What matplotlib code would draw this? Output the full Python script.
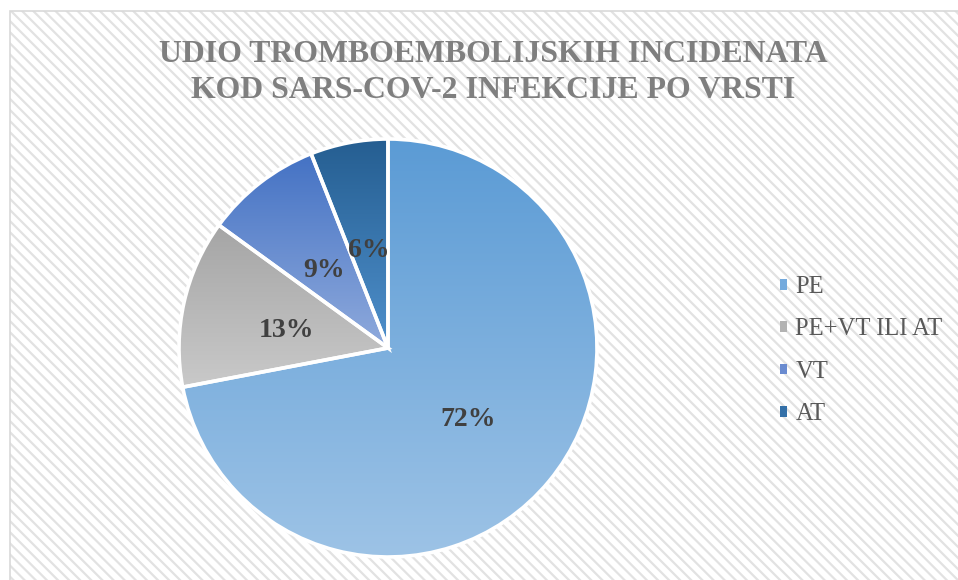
import matplotlib
matplotlib.use("Agg")
import matplotlib.pyplot as plt
import numpy as np
from matplotlib.patches import Rectangle, Patch
from matplotlib.colors import to_rgb
from matplotlib.transforms import offset_copy

# ---- data ----
categories = ["PE", "PE+VT ILI AT", "VT", "AT"]
values = [72, 13, 9, 6]
title_lines = ["UDIO TROMBOEMBOLIJSKIH INCIDENATA", "KOD SARS-COV-2 INFEKCIJE PO VRSTI"]

# ---- styles ----
top_colors = ["#5B9BD5", "#A5A5A5", "#4472C4", "#255E91"]
bottom_colors = ["#9DC3E6", "#C9C9C9", "#8FAADC", "#4F90CC"]
legend_colors = ["#74AADD", "#B3B3B3", "#6A8BD0", "#3470A8"]

W, H = 958, 580
plt.rcParams['font.family'] = ['Liberation Serif', 'DejaVu Serif']
plt.rcParams['hatch.linewidth'] = 1.6

fig = plt.figure(figsize=(W / 100, H / 100), dpi=100)
fig.patch.set_facecolor("white")

# hatched chart-area background
bg = Rectangle((10 / W, 0), 1.0, (H - 11) / H, transform=fig.transFigure,
               facecolor="white", edgecolor="#E2E2E2", linewidth=0,
               hatch="\\\\\\", zorder=-2)
fig.add_artist(bg)
border = Rectangle((10 / W, -0.01), 1.0, (H - 11) / H + 0.01, transform=fig.transFigure,
                   facecolor="none", edgecolor="#D9D9D9", linewidth=1.2, zorder=-1)
fig.add_artist(border)

cx, cy, r = 388, 348, 209
ax = fig.add_axes([(cx - r) / W, (H - cy - r) / H, 2 * r / W, 2 * r / H])
wedges, texts, autotexts = ax.pie(
    values, startangle=90, counterclock=False, radius=1,
    autopct='%d%%', pctdistance=0.5,
    wedgeprops=dict(edgecolor="white", linewidth=2.6),
    textprops=dict(fontsize=20, fontweight="bold", color="#404040"))
ax.set_xlim(-1, 1)
ax.set_ylim(-1, 1)
ax.axis('off')

# gradient fills clipped to each wedge
for w, c0, c1 in zip(wedges, top_colors, bottom_colors):
    ext = w.get_path().get_extents()
    t = np.linspace(0, 1, 256)[:, None]
    g = (1 - t) * np.array(to_rgb(c0)) + t * np.array(to_rgb(c1))
    img = ax.imshow(g[:, None, :], extent=(ext.x0, ext.x1, ext.y0, ext.y1),
                    origin='upper', aspect='auto', zorder=1.5,
                    interpolation='bilinear')
    img.set_clip_path(w)
    w.set_facecolor("none")
    w.set_zorder(2)
label_tr = offset_copy(ax.transData, fig=fig, x=0, y=-5, units='dots')
for at in autotexts:
    at.set_zorder(4)
    at.set_transform(label_tr)
ax.set_xlim(-1, 1)
ax.set_ylim(-1, 1)

# title
fig.text(493 / W, 1 - 54 / H, title_lines[0], ha="center", va="center",
         fontsize=22.9, fontweight="bold", color="#7F7F7F")
fig.text(493 / W, 1 - 91 / H, title_lines[1], ha="center", va="center",
         fontsize=22.9, fontweight="bold", color="#7F7F7F")

# legend
handles = [Patch(facecolor=c, edgecolor="none") for c in legend_colors]
fig.legend(handles, categories, loc="upper left",
           bbox_to_anchor=(780 / W, 1 - 276 / H), bbox_transform=fig.transFigure,
           frameon=False, handlelength=0.3, handleheight=0.3,
           handletextpad=0.33, labelspacing=0.83, borderpad=0, borderaxespad=0,
           prop=dict(family="Liberation Serif", size=17.7), labelcolor="#595959")

fig.savefig("out.png", dpi=100)
